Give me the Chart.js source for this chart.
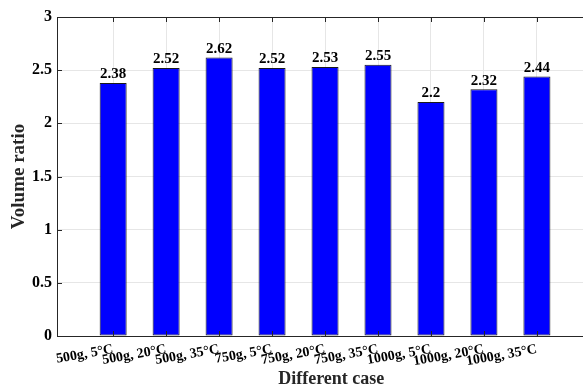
<!DOCTYPE html>
<html>
<head>
<meta charset="utf-8">
<script src="https://cdn.jsdelivr.net/npm/chart.js@4"></script>
<style>
html, body { margin: 0; padding: 0; background: #fff; }
#wrap { width: 583px; height: 386px; }
</style>
</head>
<body>
<div id="wrap"><canvas id="c" width="583" height="386"></canvas></div>
<script>
// cases on the x axis
var categories = ['500g, 5°C', '500g, 20°C', '500g, 35°C', '750g, 5°C', '750g, 20°C',
  '750g, 35°C', '1000g, 5°C', '1000g, 20°C', '1000g, 35°C'];
var volumeRatio = [2.38, 2.52, 2.62, 2.52, 2.53, 2.55, 2.2, 2.32, 2.44];
var yTicks = [0, 0.5, 1, 1.5, 2, 2.5, 3];

var serif = '"Liberation Serif", "Times New Roman", serif';

// bar value labels + box/tick marks like matlab
var extras = {
  id: 'extras',
  afterDatasetsDraw: function(chart) {
    var ctx = chart.ctx, x = chart.scales.x, y = chart.scales.y, a = chart.chartArea;
    ctx.save();
    ctx.strokeStyle = '#262626';
    ctx.lineWidth = 1;
    // top border
    ctx.beginPath();
    ctx.moveTo(a.left, a.top + 0.5);
    ctx.lineTo(a.right, a.top + 0.5);
    ctx.stroke();
    // inward ticks top & bottom
    for (var i = 0; i < categories.length; i++) {
      var px = Math.round(x.getPixelForValue(i + 1)) + 0.5;
      ctx.beginPath();
      ctx.moveTo(px, a.bottom);
      ctx.lineTo(px, a.bottom - 5);
      ctx.moveTo(px, a.top);
      ctx.lineTo(px, a.top + 5);
      ctx.stroke();
    }
    // y ticks inward
    yTicks.forEach(function(v) {
      var py = Math.round(y.getPixelForValue(v)) + 0.5;
      ctx.beginPath();
      ctx.moveTo(a.left, py);
      ctx.lineTo(a.left + 5, py);
      ctx.stroke();
    });
    // values
    ctx.fillStyle = '#000';
    ctx.font = 'bold 15px ' + serif;
    ctx.textAlign = 'center';
    ctx.textBaseline = 'bottom';
    volumeRatio.forEach(function(v, i) {
      ctx.fillText(String(v), x.getPixelForValue(i + 1), y.getPixelForValue(v) - 1);
    });
    ctx.restore();
  }
};

new Chart(document.getElementById('c'), {
  type: 'bar',
  data: {
    datasets: [{
      data: volumeRatio.map(function(v, i) { return { x: i + 1, y: v }; }),
      backgroundColor: '#0000FF',
      borderColor: '#1a1a1a',
      borderWidth: 1,
      borderSkipped: false,
      barPercentage: 0.51,
      categoryPercentage: 1
    }]
  },
  options: {
    responsive: false,
    animation: false,
    devicePixelRatio: 1,
    layout: { padding: { top: 17, right: 0, left: 0, bottom: 0 } },
    plugins: { legend: { display: false }, tooltip: { enabled: false } },
    scales: {
      x: {
        type: 'linear',
        offset: false,
        min: -0.06,
        max: 9.87,
        afterBuildTicks: function(s) {
          s.ticks = categories.map(function(c, i) { return { value: i + 1 }; });
        },
        afterFit: function(s) { s.height = 50; s.paddingLeft = 0; s.paddingRight = 0; },
        ticks: {
          autoSkip: false,
          minRotation: 10,
          maxRotation: 10,
          padding: 5,
          color: '#000',
          font: { family: serif, size: 14, weight: 'bold' },
          callback: function(v) { return categories[v - 1]; }
        },
        grid: { color: '#e6e6e6', drawTicks: false, offset: false },
        border: { color: '#262626' },
        title: {
          display: true,
          text: '\u00a0'.repeat(5) + 'Different case',
          color: '#262626',
          font: { family: serif, size: 18, weight: 'bold' },
          padding: { top: 0, bottom: -4 }
        }
      },
      y: {
        min: 0,
        max: 3,
        afterBuildTicks: function(s) {
          s.ticks = yTicks.map(function(v) { return { value: v }; });
        },
        afterFit: function(s) { s.width = 57; s.paddingTop = 0; s.paddingBottom = 0; },
        ticks: {
          padding: 5,
          color: '#000',
          font: { family: serif, size: 16, weight: 'bold' },
          callback: function(v) { return String(v); }
        },
        grid: { color: '#e6e6e6', drawTicks: false },
        border: { color: '#262626' },
        title: {
          display: true,
          text: 'Volume ratio',
          color: '#262626',
          font: { family: serif, size: 19, weight: 'bold' },
          padding: { top: 8, bottom: 0 }
        }
      }
    }
  },
  plugins: [extras]
});
</script>
</body>
</html>
